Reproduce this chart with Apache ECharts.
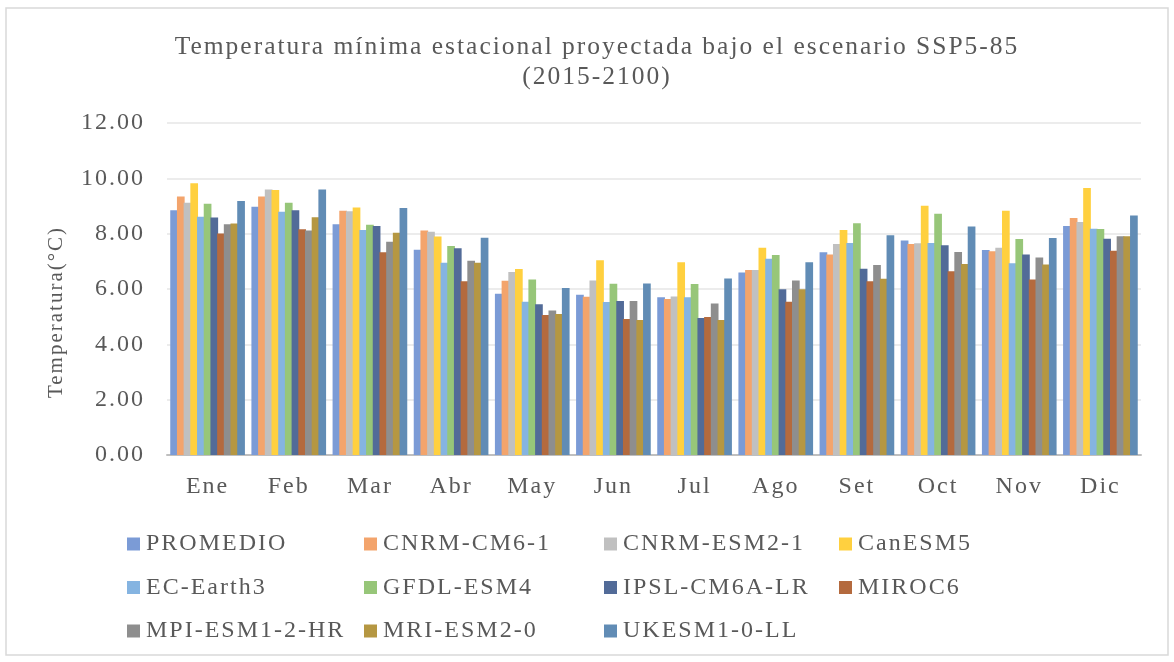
<!DOCTYPE html>
<html>
<head>
<meta charset="utf-8">
<script src="https://cdn.jsdelivr.net/npm/echarts@6/dist/echarts.min.js"></script>
<style>
  html, body { margin: 0; padding: 0; background: #fff; }
  #chartTmin { width: 1174px; height: 662px; }
</style>
</head>
<body>
<div id="chartTmin"></div>
<script>
  // meses
  var meses = ['Ene', 'Feb', 'Mar', 'Abr', 'May', 'Jun', 'Jul', 'Ago', 'Set', 'Oct', 'Nov', 'Dic'];

  // temperatura minima por modelo (°C)
  var promedio   = [8.85, 8.97, 8.34, 7.42, 5.83, 5.79, 5.70, 6.60, 7.33, 7.75, 7.41, 8.28];
  var cnrmCm6    = [9.34, 9.34, 8.83, 8.11, 6.30, 5.72, 5.64, 6.69, 7.25, 7.63, 7.36, 8.57];
  var cnrmEsm2   = [9.12, 9.60, 8.81, 8.07, 6.61, 6.31, 5.73, 6.69, 7.63, 7.65, 7.49, 8.42];
  var canEsm5    = [9.82, 9.58, 8.95, 7.90, 6.72, 7.04, 6.97, 7.49, 8.13, 9.01, 8.83, 9.65];
  var ecEarth3   = [8.61, 8.79, 8.13, 6.95, 5.54, 5.53, 5.70, 7.09, 7.66, 7.66, 6.93, 8.18];
  var gfdlEsm4   = [9.08, 9.12, 8.32, 7.55, 6.34, 6.19, 6.18, 7.23, 8.38, 8.72, 7.81, 8.17];
  var ipslCm6a   = [8.58, 8.85, 8.28, 7.47, 5.45, 5.57, 4.95, 5.99, 6.73, 7.58, 7.25, 7.82];
  var miroc6     = [8.01, 8.16, 7.33, 6.28, 5.06, 4.92, 4.99, 5.54, 6.28, 6.64, 6.34, 7.38];
  var mpiEsm12   = [8.34, 8.11, 7.71, 7.02, 5.22, 5.57, 5.48, 6.31, 6.87, 7.34, 7.14, 7.91];
  var mriEsm20   = [8.37, 8.59, 8.03, 6.95, 5.10, 4.88, 4.88, 5.99, 6.37, 6.90, 6.89, 7.91];
  var ukEsm1     = [9.18, 9.60, 8.93, 7.85, 6.04, 6.20, 6.38, 6.97, 7.94, 8.26, 7.84, 8.66];

  var modelos = [
    ['PROMEDIO', promedio, '#7b9bd6'],
    ['CNRM-CM6-1', cnrmCm6, '#f3a46c'],
    ['CNRM-ESM2-1', cnrmEsm2, '#c0c0c0'],
    ['CanESM5', canEsm5, '#ffd03f'],
    ['EC-Earth3', ecEarth3, '#85b4e1'],
    ['GFDL-ESM4', gfdlEsm4, '#97c679'],
    ['IPSL-CM6A-LR', ipslCm6a, '#526b98'],
    ['MIROC6', miroc6, '#b46a3e'],
    ['MPI-ESM1-2-HR', mpiEsm12, '#8e8e8e'],
    ['MRI-ESM2-0', mriEsm20, '#b59742'],
    ['UKESM1-0-LL', ukEsm1, '#618cb5']
  ];

  var fuente = '"Liberation Serif", "Times New Roman", serif';
  var gris = '#595959';

  // el original tiene el texto algo espaciado
  var fillTextOrig = CanvasRenderingContext2D.prototype.fillText;
  CanvasRenderingContext2D.prototype.fillText = function (t, x, y, m) {
    this.letterSpacing = '2px';
    return m === undefined ? fillTextOrig.call(this, t, x, y) : fillTextOrig.call(this, t, x, y, m);
  };

  var series = [];
  for (var i = 0; i < modelos.length; i++) {
    series.push({
      name: modelos[i][0],
      type: 'bar',
      data: modelos[i][1],
      itemStyle: { color: modelos[i][2] },
      barGap: '-13%',
      barCategoryGap: '8%',
      animation: false
    });
  }

  // leyenda en 4 columnas
  var columnasX = [122, 359, 599, 834];
  var legends = [];
  for (var c = 0; c < 4; c++) {
    var items = [];
    for (var k = c; k < modelos.length; k += 4) {
      items.push(modelos[k][0]);
    }
    legends.push({
      data: items,
      orient: 'vertical',
      left: columnasX[c],
      top: 527,
      itemGap: 19.5,
      itemWidth: 13,
      itemHeight: 13,
      icon: 'rect',
      selectedMode: false,
      textStyle: { fontFamily: fuente, fontSize: 24, color: gris, padding: [0, 0, 0, 1] }
    });
  }

  var chart = echarts.init(document.getElementById('chartTmin'));
  chart.setOption({
    backgroundColor: '#fff',
    title: {
      text: 'Temperatura mínima estacional proyectada bajo el escenario SSP5-85\n(2015-2100)',
      left: 592,
      textAlign: 'center',
      top: 27,
      textStyle: { fontFamily: fuente, fontSize: 25.5, fontWeight: 'normal', color: gris, lineHeight: 30 }
    },
    legend: legends,
    grid: { left: 167, right: 33, top: 123, bottom: 207 },
    xAxis: {
      type: 'category',
      data: meses,
      axisLine: { lineStyle: { color: '#bfbfbf', width: 2 } },
      axisTick: { show: false },
      axisLabel: { fontFamily: fuente, fontSize: 24, color: gris, margin: 20 }
    },
    yAxis: {
      type: 'value',
      min: 0,
      max: 12,
      interval: 2,
      name: 'Temperatura(°C)',
      nameLocation: 'middle',
      nameGap: 100,
      nameTextStyle: { fontFamily: fuente, fontSize: 21, color: gris, padding: [0, 46, 0, 0] },
      axisLine: { show: false },
      axisTick: { show: false },
      axisLabel: {
        fontFamily: fuente, fontSize: 24, color: gris, margin: 22,
        formatter: function (v) { return v.toFixed(2); }
      },
      splitLine: { lineStyle: { color: '#ececec', width: 2 } }
    },
    graphic: [{
      type: 'rect',
      shape: { x: 6, y: 8, width: 1162, height: 647 },
      style: { fill: null, stroke: '#d9d9d9', lineWidth: 1.5 },
      silent: true
    }],
    series: series
  });
</script>
</body>
</html>
